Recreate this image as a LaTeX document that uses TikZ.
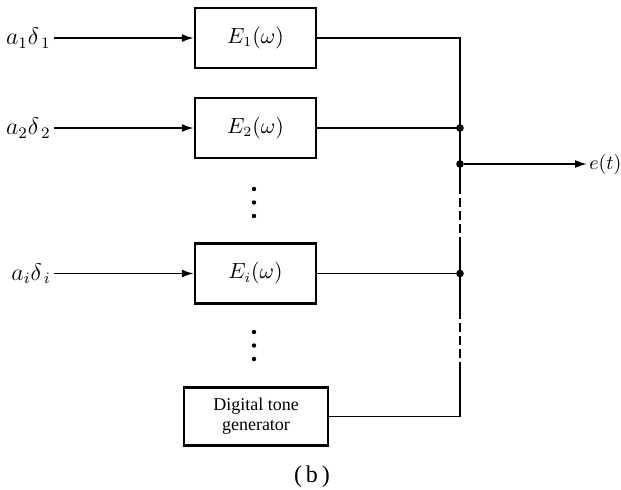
\documentclass[tikz,border=0pt]{standalone}
\usepackage{fontspec}
\setmainfont{Liberation Serif}
\usetikzlibrary{arrows.meta}
\begin{document}
\begin{tikzpicture}[x=0.5pt,y=-0.5pt,
  blockbox/.style={draw, line width=1.2pt, minimum width=60.5pt, minimum height=30pt, inner sep=0pt, font=\fontsize{10.5}{12}\selectfont},
  inlabel/.style={anchor=east, inner sep=1.5pt, font=\fontsize{11.5}{13}\selectfont},
  conn/.style={line width=0.9pt},
  arr/.style={conn, -{Latex[length=6pt,width=4pt]}},
  junc/.style={circle, fill, inner sep=0pt, minimum size=3.8pt},
  vdot/.style={circle, fill, inner sep=0pt, minimum size=2.2pt},
  busdash/.style={conn, dash pattern=on 4.5pt off 2pt}]
\useasboundingbox (0,0) rectangle (621,489);

% blocks
\node[blockbox] (e1) at (255.5,38) {$E_1(\omega)$};
\node[blockbox] (e2) at (255.5,128) {$E_2(\omega)$};
\node[blockbox] (ei) at (255.5,273.5) {$E_i(\omega)$};
\node[blockbox, minimum width=72pt, minimum height=29pt, align=center,
      font=\fontsize{9}{10}\selectfont] (dtg) at (256,416.5) {Digital tone\\generator};

% input labels
\node[inlabel] (l1) at (54,38) {$a_1\delta_{\,1}$};
\node[inlabel] (l2) at (54,128) {$a_2\delta_{\,2}$};
\node[inlabel] (li) at (54,273.5) {$a_i\delta_{\,i}$};

\draw[arr] (l1.east |- e1) -- (e1.west);
\draw[arr] (l2.east |- e2) -- (e2.west);
\draw[arr] (li.east |- ei) -- (ei.west);

% vertical dots
\node[vdot] (d1) at (254,189) {};
\node[vdot] (d2) at (254,202.5) {};
\node[vdot] (d3) at (254,216) {};
\node[vdot] (d4) at (254,332) {};
\node[vdot] (d5) at (254,345.5) {};
\node[vdot] (d6) at (254,359) {};

% bus
\coordinate (bx) at (460,0);
\coordinate (jt) at (e1.east -| bx);
\coordinate (j2) at (e2.east -| bx);
\coordinate (j0) at (460,164);
\coordinate (ji) at (ei.east -| bx);
\coordinate (jb) at (dtg.east -| bx);
\coordinate (s1) at (460,185);
\coordinate (s2) at (460,239);
\coordinate (s3) at (460,310);
\coordinate (s4) at (460,370);

\draw[conn] (e1.east) -- (jt) -- (s1);
\draw[busdash] (s1) -- (s2);
\draw[conn] (s2) -- (s3);
\draw[busdash] (s3) -- (s4);
\draw[conn] (s4) -- (jb) -- (dtg.east);
\draw[conn] (e2.east) -- (j2);
\draw[conn] (ei.east) -- (ji);

\node[junc] (n2) at (j2) {};
\node[junc] (n0) at (j0) {};
\node[junc] (ni) at (ji) {};

% output
\node[anchor=west, inner sep=1pt, font=\fontsize{10}{12}\selectfont] (et) at (587,164) {$e(t)$};
\draw[arr] (n0) -- (et.west);

% caption
\node[font=\fontsize{12}{14}\selectfont] (cap) at (312,477) {(\,b\,)};
\end{tikzpicture}
\end{document}
